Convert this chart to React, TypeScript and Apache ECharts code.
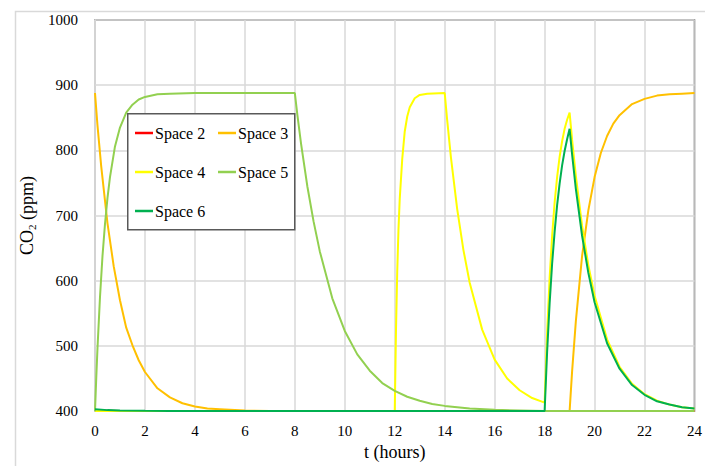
import React, { useEffect, useRef } from "react";
import * as echarts from "echarts";

const xTicks = [0, 2, 4, 6, 8, 10, 12, 14, 16, 18, 20, 22, 24];
const yTicks = [400, 500, 600, 700, 800, 900, 1000];

const seriesNames = ["Space 2", "Space 3", "Space 4", "Space 5", "Space 6"];
const seriesColors = ["#FF0000", "#FFC000", "#FFFF00", "#92D050", "#00B050"];

const space2: [number, number][] = [
  [0, 401], [0.5, 400.5], [1, 400], [24, 400],
];

const space3: [number, number][] = [
  [0, 888], [0.1, 838], [0.25, 775], [0.5, 688], [0.75, 622], [1, 570], [1.25, 528],
  [1.5, 501], [1.75, 478], [2, 460], [2.5, 435], [3, 421], [3.5, 412], [4, 407],
  [4.5, 404], [5, 403], [6, 401], [7, 400], [19, 400], [19.1, 461], [19.25, 538],
  [19.5, 638], [19.75, 708], [20, 759], [20.25, 796], [20.5, 822], [20.75, 841],
  [21, 854], [21.5, 871], [22, 879], [22.5, 884], [23, 886], [23.5, 887], [24, 888],
];

const space4: [number, number][] = [
  [0, 400], [12, 400], [12.05, 525], [12.1, 615], [12.15, 680], [12.2, 726], [12.3, 787],
  [12.4, 829], [12.5, 852], [12.6, 866], [12.8, 880], [13, 885], [13.3, 887], [14, 888],
  [14.1, 846], [14.25, 789], [14.5, 710], [14.75, 647], [15, 597], [15.5, 525], [16, 479],
  [16.5, 450], [17, 432], [17.5, 420], [18, 413], [18.1, 520], [18.2, 604], [18.3, 669],
  [18.4, 720], [18.5, 759], [18.6, 790], [18.7, 814], [18.8, 833], [18.9, 847], [19, 858],
  [19.1, 816], [19.25, 761], [19.5, 684], [19.75, 624], [20, 577], [20.5, 510], [21, 468],
  [21.5, 442], [22, 426], [22.5, 416], [23, 410], [23.5, 406], [24, 404],
];

const space5: [number, number][] = [
  [0, 400], [0.05, 451], [0.1, 497], [0.2, 575], [0.3, 638], [0.4, 687], [0.5, 727],
  [0.6, 759], [0.8, 806], [1, 835], [1.25, 858], [1.5, 870], [1.75, 878], [2, 882],
  [2.5, 886], [3, 887], [4, 888], [8, 888], [8.1, 855], [8.25, 810], [8.5, 745],
  [8.75, 691], [9, 645], [9.5, 573], [10, 523], [10.5, 487], [11, 462], [11.5, 443],
  [12, 431], [12.5, 422], [13, 416], [13.5, 411], [14, 408], [15, 404], [16, 402],
  [17, 401], [18, 400], [24, 400],
];

const space6: [number, number][] = [
  [0, 403], [0.5, 401.5], [1, 401], [2, 400.5], [3, 400.3], [18, 400.3], [18.1, 491],
  [18.2, 565], [18.3, 626], [18.4, 675], [18.5, 716], [18.6, 749], [18.7, 777],
  [18.8, 799], [18.9, 817], [19, 833], [19.1, 794], [19.25, 741], [19.5, 669],
  [19.75, 612], [20, 567], [20.5, 504], [21, 465], [21.5, 440], [22, 425], [22.5, 415],
  [23, 410], [23.5, 406], [24, 404],
];

const seriesData = [space2, space3, space4, space5, space6];

const FONT = "'Liberation Serif', 'DejaVu Serif', serif";

export default function App() {
  const ref = useRef<HTMLDivElement>(null);

  useEffect(() => {
    if (!ref.current) return;
    const chart = echarts.init(ref.current, undefined, { renderer: "svg" });

    // legend drawn as a boxed 2-column key (rows 39px apart)
    const legendEls: any[] = [
      {
        type: "rect",
        left: 127,
        top: 113,
        z: 8,
        shape: { width: 167, height: 116 },
        style: { fill: "#fff", stroke: "#595959", lineWidth: 1.5 },
        silent: true,
      },
    ];
    seriesNames.forEach((name, i) => {
      const col = i % 2;
      const row = Math.floor(i / 2);
      const x0 = 135 + col * 83;
      const yc = 133 + row * 39;
      legendEls.push({
        type: "line",
        z: 10,
        shape: { x1: x0, y1: yc, x2: x0 + 18, y2: yc },
        style: { stroke: seriesColors[i], lineWidth: 2.5 },
        silent: true,
      });
      legendEls.push({
        type: "text",
        z: 10,
        x: x0 + 20,
        y: yc,
        style: {
          text: name,
          font: '16px "Liberation Serif", serif',
          fill: "#000",
          verticalAlign: "middle",
          align: "left",
        },
        silent: true,
      });
    });

    chart.setOption({
      animation: false,
      backgroundColor: "#fff",
      textStyle: { fontFamily: FONT },
      grid: {
        left: 95,
        top: 20,
        right: 4,
        bottom: 54,
        show: true,
        borderColor: "#595959",
        borderWidth: 1.5,
      },
      graphic: [
        {
          type: "rect",
          left: 13,
          top: 9,
          z: 0,
          shape: { width: 720, height: 480 },
          style: { fill: "none", stroke: "#d9d9d9", lineWidth: 1.5 },
          silent: true,
        },
        ...legendEls,
      ],
      xAxis: {
        type: "value",
        min: xTicks[0],
        max: xTicks[xTicks.length - 1],
        interval: 2,
        name: "t (hours)",
        nameLocation: "middle",
        nameGap: 31,
        nameTextStyle: { fontFamily: FONT, fontSize: 18, color: "#000" },
        axisLine: { show: true, lineStyle: { color: "#d9d9d9", width: 1.5 } },
        axisTick: { show: false },
        axisLabel: {
          fontFamily: FONT,
          fontSize: 15,
          color: "#000",
          margin: 12,
          formatter: (v: number) => (xTicks.includes(v) ? String(v) : ""),
        },
        splitLine: { show: true, lineStyle: { color: "#d9d9d9", width: 1.5 } },
      },
      yAxis: {
        type: "value",
        min: yTicks[0],
        max: yTicks[yTicks.length - 1],
        interval: 100,
        name: "{a|CO}{s|2}{a| (ppm)}",
        nameLocation: "middle",
        nameGap: 48,
        nameTextStyle: {
          fontFamily: FONT,
          color: "#000",
          rich: {
            a: { fontFamily: FONT, fontSize: 18, color: "#000" },
            s: { fontFamily: FONT, fontSize: 11, color: "#000", padding: [9, 0, 0, 0] },
          },
        },
        axisLine: { show: true, lineStyle: { color: "#d9d9d9", width: 1.5 } },
        axisTick: { show: false },
        axisLabel: {
          fontFamily: FONT,
          fontSize: 15,
          color: "#000",
          margin: 17,
          formatter: (v: number) => (yTicks.includes(v) ? String(v) : ""),
        },
        splitLine: { show: true, lineStyle: { color: "#d9d9d9", width: 1.5 } },
      },
      series: seriesNames.map((name, i) => ({
        name,
        type: "line",
        data: seriesData[i],
        showSymbol: false,
        symbol: "none",
        color: seriesColors[i],
        lineStyle: { color: seriesColors[i], width: 2 },
        z: 2 + i,
        emphasis: { disabled: true },
      })),
    });

    return () => chart.dispose();
  }, []);

  return (
    <div
      ref={ref}
      style={{ position: "fixed", left: 0, top: 0, width: 705, height: 466, background: "#fff" }}
    />
  );
}
